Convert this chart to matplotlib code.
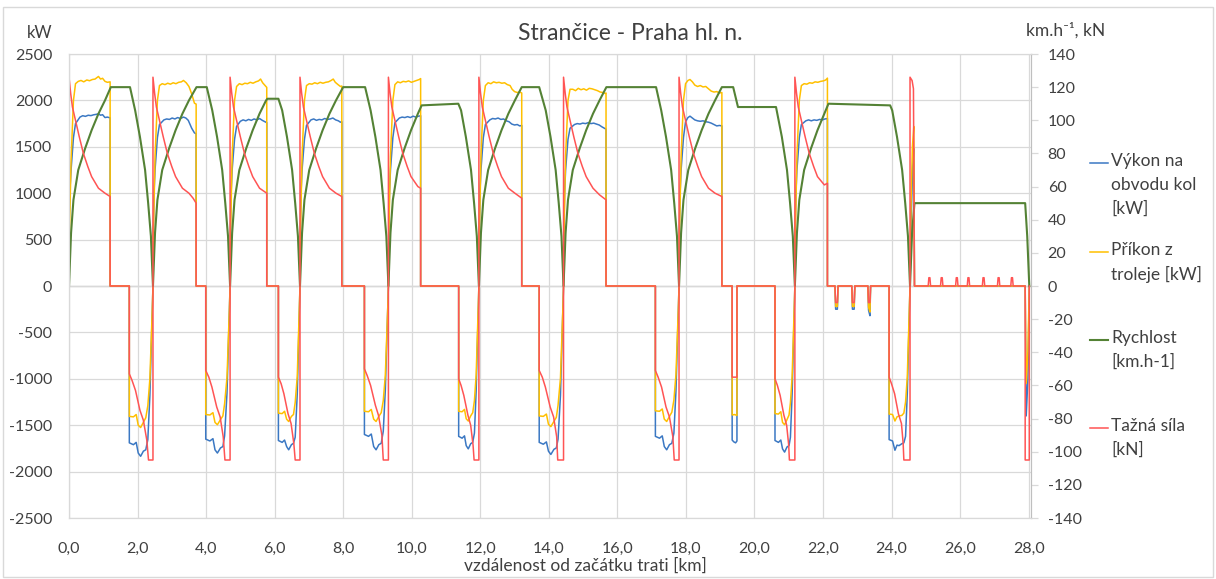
import matplotlib
matplotlib.use("Agg")
import matplotlib.pyplot as plt
import numpy as np
from matplotlib.lines import Line2D
from matplotlib.patches import Rectangle

plt.rcParams['font.family'] = ['Lato', 'DejaVu Sans']
plt.rcParams['axes.unicode_minus'] = False

# [km, kW] - Výkon na obvodu kol
wheel_power = [
    # 0,00 - 2,45
    [0.00, 700], [0.03, 1050], [0.06, 1250], [0.13, 1600], [0.19, 1750], [0.32, 1820], [0.40, 1835],
    [0.48, 1828], [0.56, 1840], [0.64, 1836], [0.72, 1845], [0.80, 1850], [0.86, 1856], [0.92, 1840],
    [0.98, 1846], [1.05, 1815], [1.12, 1820], [1.20, 1812], [1.20, 0],
    [1.76, 0], [1.76, -1690], [1.88, -1710], [1.96, -1685], [2.02, -1800], [2.09, -1835], [2.17, -1780],
    [2.24, -1765], [2.30, -1655], [2.36, -1180], [2.43, -290], [2.45, 0],
    # 2,45 - 4,70
    [2.46, 600], [2.48, 1000], [2.51, 1250], [2.58, 1600], [2.64, 1740], [2.77, 1790], [2.85, 1800],
    [2.93, 1795], [3.01, 1810], [3.09, 1800], [3.17, 1815], [3.25, 1805], [3.34, 1820], [3.41, 1810],
    [3.48, 1785], [3.58, 1700], [3.66, 1650], [3.71, 1640], [3.71, 0],
    [3.99, 0], [3.99, -1650], [4.11, -1670], [4.20, -1645], [4.26, -1765], [4.33, -1800], [4.42, -1745],
    [4.49, -1730], [4.54, -1615], [4.61, -1155], [4.68, -280], [4.70, 0],
    # 4,70 - 6,74
    [4.71, 600], [4.73, 1000], [4.76, 1250], [4.83, 1580], [4.89, 1720], [5.00, 1775], [5.08, 1790],
    [5.16, 1780], [5.24, 1795], [5.32, 1785], [5.40, 1800], [5.48, 1790], [5.56, 1805], [5.64, 1785],
    [5.72, 1770], [5.77, 1760], [5.77, 0],
    [6.11, 0], [6.11, -1665], [6.22, -1685], [6.29, -1660], [6.35, -1730], [6.41, -1765], [6.49, -1710],
    [6.55, -1695], [6.60, -1630], [6.66, -1165], [6.72, -285], [6.74, 0],
    # 6,74 - 9,32
    [6.75, 600], [6.77, 1000], [6.80, 1250], [6.87, 1580], [6.93, 1730], [7.06, 1790], [7.14, 1800],
    [7.22, 1785], [7.30, 1795], [7.38, 1790], [7.46, 1805], [7.54, 1795], [7.62, 1800], [7.70, 1810],
    [7.78, 1790], [7.86, 1780], [7.92, 1765], [7.96, 1770], [7.96, 0],
    [8.62, 0], [8.62, -1600], [8.74, -1620], [8.82, -1595], [8.89, -1730], [8.96, -1765], [9.04, -1710],
    [9.11, -1695], [9.17, -1565], [9.23, -1120], [9.30, -270], [9.32, 0],
    # 9,32 - 11,96
    [9.33, 600], [9.35, 1000], [9.38, 1250], [9.45, 1600], [9.51, 1760], [9.64, 1810], [9.72, 1820],
    [9.80, 1815], [9.88, 1825], [9.96, 1815], [10.04, 1830], [10.12, 1820], [10.20, 1830], [10.26, 1835],
    [10.26, 0],
    [11.37, 0], [11.37, -1620], [11.47, -1640], [11.54, -1615], [11.59, -1720], [11.65, -1755], [11.72, -1700],
    [11.78, -1685], [11.83, -1585], [11.88, -1135], [11.94, -275], [11.96, 0],
    # 11,96 - 14,43
    [11.97, 600], [11.99, 1000], [12.02, 1250], [12.09, 1600], [12.15, 1740], [12.28, 1790], [12.36, 1805],
    [12.44, 1800], [12.52, 1810], [12.60, 1795], [12.68, 1800], [12.76, 1780], [12.84, 1770], [12.92, 1745],
    [13.00, 1735], [13.08, 1740], [13.15, 1725], [13.21, 1730], [13.21, 0],
    [13.72, 0], [13.72, -1685], [13.84, -1705], [13.93, -1680], [13.99, -1780], [14.06, -1815], [14.15, -1760],
    [14.22, -1745], [14.27, -1650], [14.34, -1180], [14.41, -285], [14.43, 0],
    # 14,43 - 17,80
    [14.44, 600], [14.46, 1000], [14.49, 1250], [14.56, 1580], [14.62, 1700], [14.75, 1740], [14.83, 1750],
    [14.91, 1745], [14.99, 1755], [15.07, 1750], [15.15, 1760], [15.23, 1750], [15.31, 1755], [15.39, 1745],
    [15.47, 1735], [15.55, 1715], [15.62, 1700], [15.67, 1690], [15.67, 0],
    [17.11, 0], [17.11, -1620], [17.23, -1640], [17.31, -1615], [17.37, -1730], [17.44, -1765], [17.52, -1710],
    [17.59, -1695], [17.65, -1585], [17.71, -1135], [17.78, -275], [17.80, 0],
    # 17,80 - 21,18
    [17.81, 600], [17.83, 1000], [17.86, 1250], [17.93, 1600], [17.99, 1770], [18.06, 1815], [18.12, 1830],
    [18.19, 1810], [18.26, 1790], [18.34, 1780], [18.42, 1775], [18.50, 1780], [18.58, 1770], [18.66, 1765],
    [18.74, 1755], [18.82, 1740], [18.90, 1725], [18.98, 1730], [19.05, 1725], [19.05, 0],
    [19.35, 0], [19.35, -1660], [19.40, -1680], [19.45, -1690], [19.49, -1670], [19.49, 0],
    [20.60, 0], [20.60, -1665], [20.70, -1685], [20.77, -1660], [20.82, -1755], [20.88, -1790], [20.95, -1735],
    [21.01, -1720], [21.05, -1630], [21.10, -1165], [21.16, -285], [21.18, 0],
    # 21,18 - 24,54
    [21.19, 600], [21.21, 1000], [21.24, 1250], [21.31, 1600], [21.37, 1740], [21.50, 1780], [21.58, 1790],
    [21.66, 1780], [21.74, 1790], [21.82, 1785], [21.90, 1795], [21.98, 1790], [22.06, 1800], [22.13, 1805],
    [22.13, 0],
    [22.35, 0], [22.37, -250], [22.42, -250], [22.44, 0], [22.84, 0], [22.86, -250], [22.91, -250], [22.93, 0],
    [23.31, 0], [23.33, -260], [23.37, -320], [23.39, 0],
    [23.93, 0], [23.93, -1655], [24.03, -1670], [24.10, -1770], [24.16, -1715], [24.22, -1720], [24.30, -1700],
    [24.36, -1690], [24.41, -1620], [24.46, -1160], [24.52, -280], [24.54, 0],
    # 24,54 - 28,02
    [24.58, 800], [24.62, 1300], [24.65, 1480], [24.67, 0], [27.90, 0], [27.93, -1400], [27.98, -1000], [28.02, 0],
]

# [km, kW] - Příkon z troleje
line_power = [
    [0.00, 355], [0.06, 1355], [0.13, 2000], [0.19, 2180], [0.27, 2205], [0.35, 2215], [0.43, 2200],
    [0.52, 2220], [0.60, 2212], [0.68, 2225], [0.76, 2230], [0.86, 2258], [0.92, 2230], [0.98, 2238],
    [1.05, 2205], [1.12, 2195], [1.20, 2200], [1.20, 0],
    [1.76, 0], [1.76, -1405], [1.88, -1410], [1.96, -1385], [2.02, -1500], [2.09, -1525], [2.17, -1470],
    [2.24, -1420], [2.30, -1290], [2.36, -1000], [2.43, -250], [2.45, 0],
    [2.46, 500], [2.51, 1400], [2.58, 2000], [2.64, 2160], [2.72, 2180], [2.80, 2170], [2.88, 2185],
    [2.96, 2175], [3.04, 2190], [3.12, 2180], [3.20, 2195], [3.28, 2200], [3.34, 2215], [3.42, 2190],
    [3.50, 2150], [3.58, 2070], [3.66, 1970], [3.71, 1960], [3.71, 0],
    [3.99, 0], [3.99, -1385], [4.11, -1390], [4.20, -1365], [4.26, -1470], [4.33, -1495], [4.42, -1440],
    [4.49, -1400], [4.54, -1270], [4.61, -985], [4.68, -250], [4.70, 0],
    [4.71, 500], [4.76, 1400], [4.83, 2000], [4.89, 2150], [4.97, 2180], [5.05, 2170], [5.13, 2185],
    [5.21, 2180], [5.29, 2195], [5.37, 2185], [5.45, 2200], [5.53, 2210], [5.59, 2230], [5.65, 2190],
    [5.72, 2160], [5.77, 2140], [5.77, 0],
    [6.11, 0], [6.11, -1370], [6.22, -1375], [6.29, -1350], [6.35, -1435], [6.41, -1460], [6.49, -1405],
    [6.55, -1385], [6.60, -1255], [6.66, -975], [6.72, -245], [6.74, 0],
    [6.75, 500], [6.80, 1400], [6.87, 2000], [6.93, 2160], [7.01, 2180], [7.09, 2175], [7.17, 2190],
    [7.25, 2180], [7.33, 2195], [7.41, 2185], [7.49, 2195], [7.57, 2200], [7.65, 2215], [7.71, 2230],
    [7.77, 2195], [7.85, 2170], [7.92, 2150], [7.96, 2155], [7.96, 0],
    [8.62, 0], [8.62, -1350], [8.74, -1355], [8.82, -1330], [8.89, -1435], [8.96, -1460], [9.04, -1405],
    [9.11, -1365], [9.17, -1235], [9.23, -960], [9.30, -245], [9.32, 0],
    [9.33, 500], [9.38, 1400], [9.45, 2000], [9.51, 2170], [9.59, 2200], [9.67, 2190], [9.75, 2205],
    [9.83, 2200], [9.91, 2210], [9.99, 2195], [10.07, 2205], [10.15, 2215], [10.22, 2225], [10.26, 2235],
    [10.26, 0],
    [11.37, 0], [11.37, -1350], [11.47, -1355], [11.54, -1330], [11.59, -1430], [11.65, -1455], [11.72, -1400],
    [11.78, -1365], [11.83, -1235], [11.88, -960], [11.94, -245], [11.96, 0],
    [11.97, 500], [12.02, 1400], [12.09, 2000], [12.15, 2160], [12.23, 2190], [12.31, 2180], [12.39, 2200],
    [12.47, 2190], [12.55, 2195], [12.63, 2185], [12.71, 2190], [12.79, 2170], [12.87, 2160], [12.93, 2120],
    [13.00, 2095], [13.08, 2085], [13.15, 2090], [13.21, 2080], [13.21, 0],
    [13.72, 0], [13.72, -1400], [13.84, -1405], [13.93, -1380], [13.99, -1490], [14.06, -1515], [14.15, -1460],
    [14.22, -1415], [14.27, -1285], [14.34, -995], [14.41, -250], [14.43, 0],
    [14.44, 500], [14.49, 1400], [14.56, 2000], [14.62, 2120], [14.70, 2120], [14.78, 2105], [14.86, 2130],
    [14.94, 2115], [15.02, 2125], [15.10, 2110], [15.18, 2130], [15.26, 2125], [15.34, 2115], [15.42, 2105],
    [15.50, 2090], [15.58, 2085], [15.64, 2075], [15.67, 2080], [15.67, 0],
    [17.11, 0], [17.11, -1345], [17.23, -1350], [17.31, -1325], [17.37, -1435], [17.44, -1460], [17.52, -1405],
    [17.59, -1360], [17.65, -1230], [17.71, -955], [17.78, -240], [17.80, 0],
    [17.81, 500], [17.86, 1400], [17.93, 2000], [17.99, 2180], [18.06, 2215], [18.12, 2225], [18.19, 2200],
    [18.26, 2165], [18.34, 2150], [18.42, 2160], [18.50, 2145], [18.58, 2150], [18.66, 2125], [18.74, 2100],
    [18.82, 2090], [18.90, 2095], [18.98, 2080], [19.05, 2085], [19.05, 0],
    [19.35, 0], [19.35, -1390], [19.42, -1385], [19.49, -1395], [19.49, 0],
    [20.60, 0], [20.60, -1375], [20.70, -1380], [20.77, -1355], [20.82, -1470], [20.88, -1495], [20.95, -1440],
    [21.01, -1390], [21.05, -1260], [21.10, -975], [21.16, -250], [21.18, 0],
    [21.19, 500], [21.24, 1400], [21.31, 2000], [21.37, 2160], [21.45, 2180], [21.53, 2175], [21.61, 2190],
    [21.69, 2185], [21.77, 2200], [21.85, 2195], [21.93, 2205], [22.01, 2210], [22.08, 2220], [22.13, 2240],
    [22.13, 0],
    [22.35, 0], [22.37, -220], [22.42, -220], [22.44, 0], [22.84, 0], [22.86, -220], [22.91, -220], [22.93, 0],
    [23.31, 0], [23.33, -230], [23.37, -280], [23.39, 0],
    [23.93, 0], [23.93, -1380], [24.03, -1385], [24.10, -1455], [24.16, -1410], [24.22, -1400], [24.30, -1395],
    [24.36, -1370], [24.41, -1250], [24.46, -980], [24.52, -250], [24.54, 0],
    [24.57, 900], [24.61, 1500], [24.65, 1720], [24.67, 0], [27.90, 0], [27.93, -1050], [27.98, -700], [28.02, 0],
]

# [km, km/h] - Rychlost
speed = [
    [0.00, 0], [0.06, 32], [0.13, 52], [0.27, 70], [0.47, 83], [0.66, 94], [0.86, 104], [1.05, 112],
    [1.22, 120], [1.78, 120], [1.93, 106], [2.07, 90], [2.22, 70], [2.31, 50], [2.39, 30], [2.45, 0],
    [2.51, 32], [2.58, 52], [2.72, 70], [2.92, 83], [3.11, 94], [3.31, 104], [3.50, 112], [3.72, 120],
    [4.02, 120], [4.18, 106], [4.32, 90], [4.47, 70], [4.56, 50], [4.64, 30], [4.70, 0],
    [4.76, 32], [4.83, 52], [4.97, 70], [5.17, 83], [5.36, 94], [5.56, 104], [5.75, 112], [5.79, 113],
    [6.11, 113], [6.22, 106], [6.36, 90], [6.51, 70], [6.60, 50], [6.68, 30], [6.74, 0],
    [6.80, 32], [6.87, 52], [7.01, 70], [7.21, 83], [7.40, 94], [7.60, 104], [7.79, 112], [8.00, 120],
    [8.64, 120], [8.80, 106], [8.94, 90], [9.09, 70], [9.18, 50], [9.26, 30], [9.32, 0],
    [9.38, 32], [9.45, 52], [9.59, 70], [9.79, 83], [9.98, 94], [10.18, 104], [10.29, 109],
    [11.36, 110], [11.44, 106], [11.58, 90], [11.73, 70], [11.82, 50], [11.90, 30], [11.96, 0],
    [12.02, 32], [12.09, 52], [12.23, 70], [12.43, 83], [12.62, 94], [12.82, 104], [13.01, 112], [13.21, 120],
    [13.72, 120], [13.91, 106], [14.05, 90], [14.20, 70], [14.29, 50], [14.37, 30], [14.43, 0],
    [14.49, 32], [14.56, 52], [14.70, 70], [14.90, 83], [15.09, 94], [15.29, 104], [15.48, 112], [15.68, 120],
    [17.13, 120], [17.28, 106], [17.42, 90], [17.57, 70], [17.66, 50], [17.74, 30], [17.80, 0],
    [17.86, 32], [17.93, 52], [18.07, 70], [18.27, 83], [18.46, 94], [18.66, 104], [18.85, 112], [19.05, 120],
    [19.38, 120], [19.52, 108], [20.63, 108], [20.80, 90], [20.95, 70], [21.04, 50], [21.12, 30], [21.18, 0],
    [21.24, 32], [21.31, 52], [21.45, 70], [21.65, 83], [21.84, 94], [22.04, 104], [22.16, 110],
    [23.96, 109], [24.02, 106], [24.16, 90], [24.31, 70], [24.40, 50], [24.48, 30], [24.54, 0],
    [24.60, 32], [24.67, 50], [27.90, 50], [27.96, 30], [28.02, 0],
]

# [km, kN] - Tažná síla
force = [
    [0.00, 126], [0.05, 116], [0.10, 108], [0.19, 100], [0.30, 90], [0.42, 80], [0.55, 72], [0.66, 66],
    [0.86, 59], [1.05, 56], [1.20, 54], [1.20, 0], [1.76, 0], [1.76, -53], [1.84, -57], [1.94, -63],
    [2.07, -75], [2.17, -81], [2.27, -93], [2.32, -105], [2.45, -105],
    [2.45, 126], [2.50, 116], [2.55, 108], [2.64, 100], [2.75, 90], [2.87, 80], [3.00, 72], [3.11, 66],
    [3.31, 59], [3.50, 56], [3.62, 53], [3.71, 50], [3.71, 0], [3.99, 0], [3.99, -51], [4.08, -55],
    [4.17, -61], [4.31, -73], [4.41, -79], [4.50, -91], [4.55, -105], [4.70, -105],
    [4.70, 126], [4.75, 116], [4.80, 108], [4.89, 100], [5.00, 90], [5.12, 80], [5.25, 72], [5.36, 66],
    [5.56, 59], [5.77, 56], [5.77, 0], [6.11, 0], [6.11, -55], [6.19, -59], [6.27, -65], [6.39, -77],
    [6.48, -83], [6.56, -95], [6.60, -105], [6.74, -105],
    [6.74, 126], [6.79, 116], [6.84, 108], [6.93, 100], [7.04, 90], [7.16, 80], [7.29, 72], [7.40, 66],
    [7.60, 59], [7.79, 56], [7.96, 54], [7.96, 0], [8.62, 0], [8.62, -50], [8.70, -54], [8.80, -60],
    [8.94, -72], [9.03, -78], [9.13, -90], [9.17, -105], [9.32, -105],
    [9.32, 126], [9.37, 116], [9.42, 108], [9.51, 100], [9.62, 90], [9.74, 80], [9.87, 72], [9.98, 66],
    [10.18, 60], [10.26, 59], [10.26, 0], [11.37, 0], [11.37, -56], [11.44, -60], [11.52, -66],
    [11.64, -78], [11.72, -84], [11.79, -96], [11.82, -105], [11.96, -105],
    [11.96, 126], [12.01, 116], [12.06, 108], [12.15, 100], [12.26, 90], [12.38, 80], [12.51, 72],
    [12.62, 66], [12.82, 59], [13.01, 56], [13.21, 53], [13.21, 0], [13.72, 0], [13.72, -51], [13.81, -55],
    [13.90, -61], [14.04, -73], [14.14, -79], [14.23, -91], [14.26, -105], [14.43, -105],
    [14.43, 126], [14.48, 116], [14.53, 108], [14.62, 100], [14.73, 90], [14.85, 80], [14.98, 72],
    [15.09, 66], [15.29, 59], [15.48, 55], [15.67, 52], [15.67, 0], [17.11, 0], [17.11, -51], [17.19, -55],
    [17.29, -61], [17.42, -73], [17.52, -79], [17.62, -91], [17.66, -105], [17.80, -105],
    [17.80, 126], [17.85, 116], [17.90, 108], [17.99, 100], [18.10, 90], [18.22, 80], [18.35, 72],
    [18.46, 66], [18.66, 59], [18.85, 56], [19.05, 54], [19.05, 0], [19.35, 0], [19.35, -55], [19.49, -55],
    [19.49, 0], [20.60, 0], [20.60, -56], [20.67, -60], [20.75, -66], [20.86, -78], [20.94, -84],
    [21.00, -96], [21.02, -105], [21.18, -105],
    [21.18, 126], [21.23, 116], [21.28, 108], [21.37, 100], [21.48, 90], [21.60, 80], [21.73, 72],
    [21.84, 66], [22.04, 61], [22.13, 62], [22.13, 0], [22.35, 0], [22.37, -10], [22.42, -10], [22.44, 0],
    [22.84, 0], [22.86, -10], [22.91, -10], [22.93, 0], [23.31, 0], [23.33, -10], [23.37, -10], [23.39, 0],
    [23.93, 0], [23.93, -55], [24.00, -59], [24.09, -65], [24.20, -77], [24.29, -83], [24.34, -95],
    [24.36, -105], [24.54, -105],
    [24.54, 126], [24.60, 124], [24.64, 119], [24.67, 0],
    [25.07, 0], [25.09, 5], [25.12, 5], [25.14, 0], [25.43, 0], [25.45, 5], [25.48, 5], [25.50, 0],
    [25.87, 0], [25.89, 5], [25.92, 5], [25.94, 0], [26.21, 0], [26.23, 5], [26.26, 5], [26.28, 0],
    [26.65, 0], [26.67, 5], [26.70, 5], [26.72, 0], [27.09, 0], [27.11, 5], [27.14, 5], [27.16, 0],
    [27.48, 0], [27.50, 5], [27.53, 5], [27.55, 0],
    [27.90, 0], [27.90, -105], [28.02, -105], [28.02, 0],
]

x_ticks = np.arange(0, 29, 2)
kw_ticks = np.arange(-2500, 2501, 500)
kn_ticks = np.arange(-140, 141, 20)

series = [
    ("Výkon na\nobvodu kol\n[kW]", '#3B78C3', 1.1),
    ("Příkon z\ntroleje [kW]", '#FFC000', 1.1),
    ("Rychlost\n[km.h-1]", '#548235', 1.5),
    ("Tažná síla\n[kN]", '#FF5454', 1.1),
]

W, H = 1216, 579
fig = plt.figure(figsize=(W / 100, H / 100), dpi=100)
ax = fig.add_axes([69 / W, 1 - 518 / H, (1031 - 69) / W, (518 - 54) / H])
ax2 = ax.twinx()

bx, by = np.array(wheel_power).T
yx, yy = np.array(line_power).T
gx, gy = np.array(speed).T
rx, ry = np.array(force).T
ax.plot(bx, by, color=series[0][1], lw=series[0][2])
ax.plot(yx, yy, color=series[1][1], lw=series[1][2])
ax2.plot(gx, gy, color=series[2][1], lw=series[2][2])
ax2.plot(rx, ry, color=series[3][1], lw=series[3][2])

ax.set_xlim(0, 28.07)
ax.set_ylim(-2500, 2500)
ax2.set_ylim(-140, 140)
ax.set_xticks(x_ticks)
ax.set_xticklabels([f"{v:.1f}".replace('.', ',') for v in x_ticks])
ax.set_yticks(kw_ticks)
ax.set_yticklabels([str(v) for v in kw_ticks])
ax2.set_yticks(kn_ticks)
ax2.set_yticklabels([str(v) for v in kn_ticks])

ax.grid(True, color='#d9d9d9', lw=0.9)
ax.set_axisbelow(True)
ax.axhline(0, color='#c8c8c8', lw=1.0, zorder=0.5)
for a in (ax, ax2):
    for s in a.spines.values():
        s.set_color('#d9d9d9')
ax.spines['left'].set_color('#bfbfbf')
ax2.spines['right'].set_color('#bfbfbf')
ax.tick_params(axis='y', length=0, pad=12, labelsize=11.5, labelcolor='#404040')
ax.tick_params(axis='x', length=0, pad=17, labelsize=11.5, labelcolor='#404040')
ax2.tick_params(axis='y', length=5, width=0.9, color='#d9d9d9', pad=7, labelsize=11.5, labelcolor='#404040')

fig.text(630 / W, 1 - 33 / H, "Strančice - Praha hl. n.", ha='center', va='center', fontsize=16.5, color='#404040')
fig.text(40 / W, 1 - 33 / H, "kW", ha='center', va='center', fontsize=12, color='#404040')
fig.text(1066 / W, 1 - 30 / H, "km.h⁻¹, kN", ha='center', va='center', fontsize=12.5, color='#404040')
fig.text(585 / W, 1 - 566 / H, "vzdálenost od začátku trati [km]", ha='center', va='center',
         fontsize=12.5, color='#404040')

# legend on the right
leg_y = [163, 252, 340, 428]
for (label, color, lw), y in zip(series, leg_y):
    fig.add_artist(Line2D([1090 / W, 1108 / W], [1 - y / H, 1 - y / H], color=color, lw=lw,
                          transform=fig.transFigure))
    fig.text(1111 / W, 1 - (y - 10) / H, label, ha='left', va='top', fontsize=12.5,
             color='#404040', linespacing=1.6)

fig.add_artist(Rectangle((3 / W, 2 / H), 1210 / W, 570 / H, transform=fig.transFigure,
                         fill=False, edgecolor='#d9d9d9', lw=1.0))

fig.savefig("out.png", dpi=100)
